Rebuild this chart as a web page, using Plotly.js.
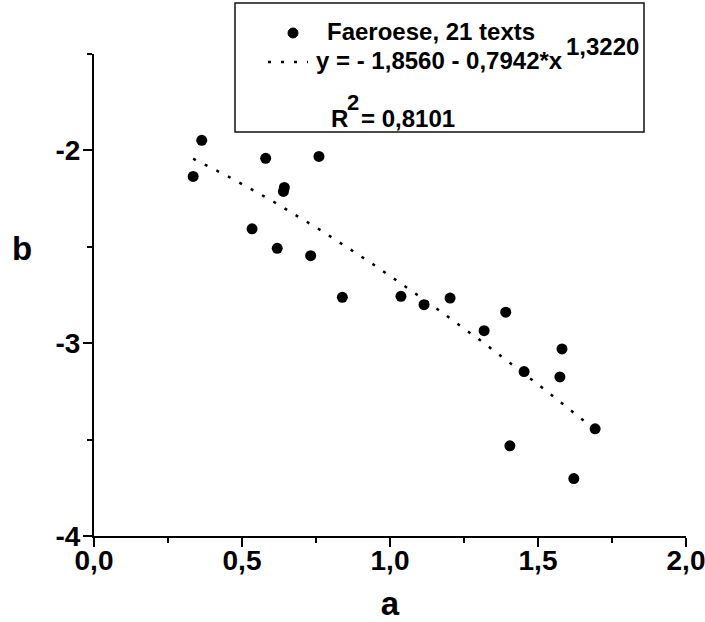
<!DOCTYPE html>
<html>
<head>
<meta charset="utf-8">
<script src="https://cdn.plot.ly/plotly-3.0.1.min.js"></script>
<style>
  html, body { margin: 0; padding: 0; background: #fff; }
  #chart { width: 705px; height: 622px; }
</style>
</head>
<body>
<div id="chart"></div>
<script>
// Faeroese texts: parameter a against parameter b
const aValues = [0.335, 0.364, 0.580, 0.760, 0.643, 0.640, 0.534, 0.619, 0.732, 0.839,
                 1.037, 1.115, 1.203, 1.318, 1.391, 1.581, 1.453, 1.574, 1.693, 1.405, 1.621];
const bValues = [-2.135, -1.948, -2.041, -2.031, -2.192, -2.213, -2.407, -2.508, -2.546, -2.762,
                 -2.757, -2.800, -2.766, -2.935, -2.839, -3.030, -3.147, -3.175, -3.444, -3.532, -3.702];

// Fitted curve y = c0 - c1 * x^c2
const fitC0 = -1.8560;
const fitC1 = 0.7942;
const fitC2 = 1.3220;
const rSquared = 0.8101;

const seriesName = 'Faeroese, 21 texts';
const xTickVals = [0, 0.5, 1, 1.5, 2];
const xTickText = ['0,0', '0,5', '1,0', '1,5', '2,0'];
const yTickVals = [-2, -3, -4];
const yTickText = ['-2', '-3', '-4'];

const fmt = (v, d) => v.toFixed(d).replace('.', ',');

// sample the fitted curve across the observed a-range
const xMin = Math.min(...aValues), xMax = Math.max(...aValues);
const curveX = [], curveY = [];
for (let i = 0; i <= 100; i++) {
  const x = xMin + (xMax - xMin) * i / 100;
  curveX.push(x);
  curveY.push(fitC0 - fitC1 * Math.pow(x, fitC2));
}

const W = 705, H = 622;
const M = { l: 94, r: 19, t: 54, b: 86 };
const PW = W - M.l - M.r, PH = H - M.t - M.b;
// pixel position -> paper coordinates
const px = X => (X - M.l) / PW;
const py = Y => (H - M.b - Y) / PH;

const FONT = 'Liberation Sans, Arial, sans-serif';
const boldFont = (size) => ({ family: FONT, size: size, color: '#000', weight: 'bold' });

const traces = [
  {
    x: aValues, y: bValues, type: 'scatter', mode: 'markers', name: seriesName,
    marker: { color: '#000', size: 11 }, showlegend: false, cliponaxis: false
  },
  {
    x: curveX, y: curveY, type: 'scatter', mode: 'lines', name: 'fit',
    line: { color: '#000', width: 2.5, dash: '3px,10px' }, showlegend: false
  }
];

const legText = (x, y, text, size) => ({
  xref: 'paper', yref: 'paper', x: px(x), y: py(y), xanchor: 'left', yanchor: 'middle',
  text: text, showarrow: false, font: boldFont(size), borderpad: 0
});

const bold = s => '<b>' + s + '</b>';
const TICK = 28;

const layout = {
  width: W, height: H,
  margin: M,
  font: boldFont(TICK),
  paper_bgcolor: '#fff', plot_bgcolor: '#fff',
  showlegend: false,
  xaxis: {
    range: [0, 2], showgrid: false, zeroline: false,
    showline: true, linecolor: '#000', linewidth: 2,
    ticks: 'outside', ticklen: 9, tickwidth: 2, tickcolor: '#000',
    tickmode: 'array', tickvals: xTickVals, ticktext: xTickText.map(bold),
    tickfont: { family: FONT, size: TICK, color: '#000' },
    ticklabelstandoff: -11, ticklabeloverflow: 'allow',
    minor: { dtick: 0.25, ticks: 'outside', ticklen: 5, tickwidth: 2, tickcolor: '#000' },
    title: { text: 'a', font: boldFont(33), standoff: 18 }
  },
  yaxis: {
    range: [-4, -1.5], showgrid: false, zeroline: false,
    showline: true, linecolor: '#000', linewidth: 2,
    ticks: 'outside', ticklen: 9, tickwidth: 2, tickcolor: '#000',
    tickmode: 'array', tickvals: yTickVals, ticktext: yTickText.map(bold),
    tickfont: { family: FONT, size: TICK, color: '#000' },
    ticklabelstandoff: -3,
    minor: { dtick: 0.5, ticks: 'outside', ticklen: 5, tickwidth: 2, tickcolor: '#000' }
  },
  shapes: [
    // legend frame
    { type: 'rect', xref: 'paper', yref: 'paper', x0: px(235), x1: px(644), y0: py(3), y1: py(132),
      line: { color: '#111', width: 1.5 }, fillcolor: 'rgba(0,0,0,0)' },
    // legend marker
    { type: 'circle', xref: 'paper', yref: 'paper', x0: px(288), x1: px(298), y0: py(28), y1: py(38),
      line: { color: '#000', width: 1 }, fillcolor: '#000' },
    // legend line sample
    { type: 'line', xref: 'paper', yref: 'paper', x0: px(268), x1: px(308), y0: py(62), y1: py(62),
      line: { color: '#000', width: 2.5, dash: '3px,10px' } }
  ],
  annotations: [
    // upright y-axis title
    { xref: 'paper', yref: 'paper', x: px(22), y: py(248), xanchor: 'center', yanchor: 'middle',
      text: 'b', showarrow: false, font: boldFont(33) },
    legText(326, 32, seriesName, 24),
    legText(315, 61, 'y = - ' + fmt(-fitC0, 4) + ' - ' + fmt(fitC1, 4) + '*x', 24),
    legText(565, 46, fmt(fitC2, 4), 24),
    legText(330, 119, 'R', 24),
    legText(346, 102, '2', 22),
    legText(360, 119, '= ' + fmt(rSquared, 4), 24)
  ]
};

Plotly.newPlot('chart', traces, layout, { displayModeBar: false, staticPlot: true });
</script>
</body>
</html>
